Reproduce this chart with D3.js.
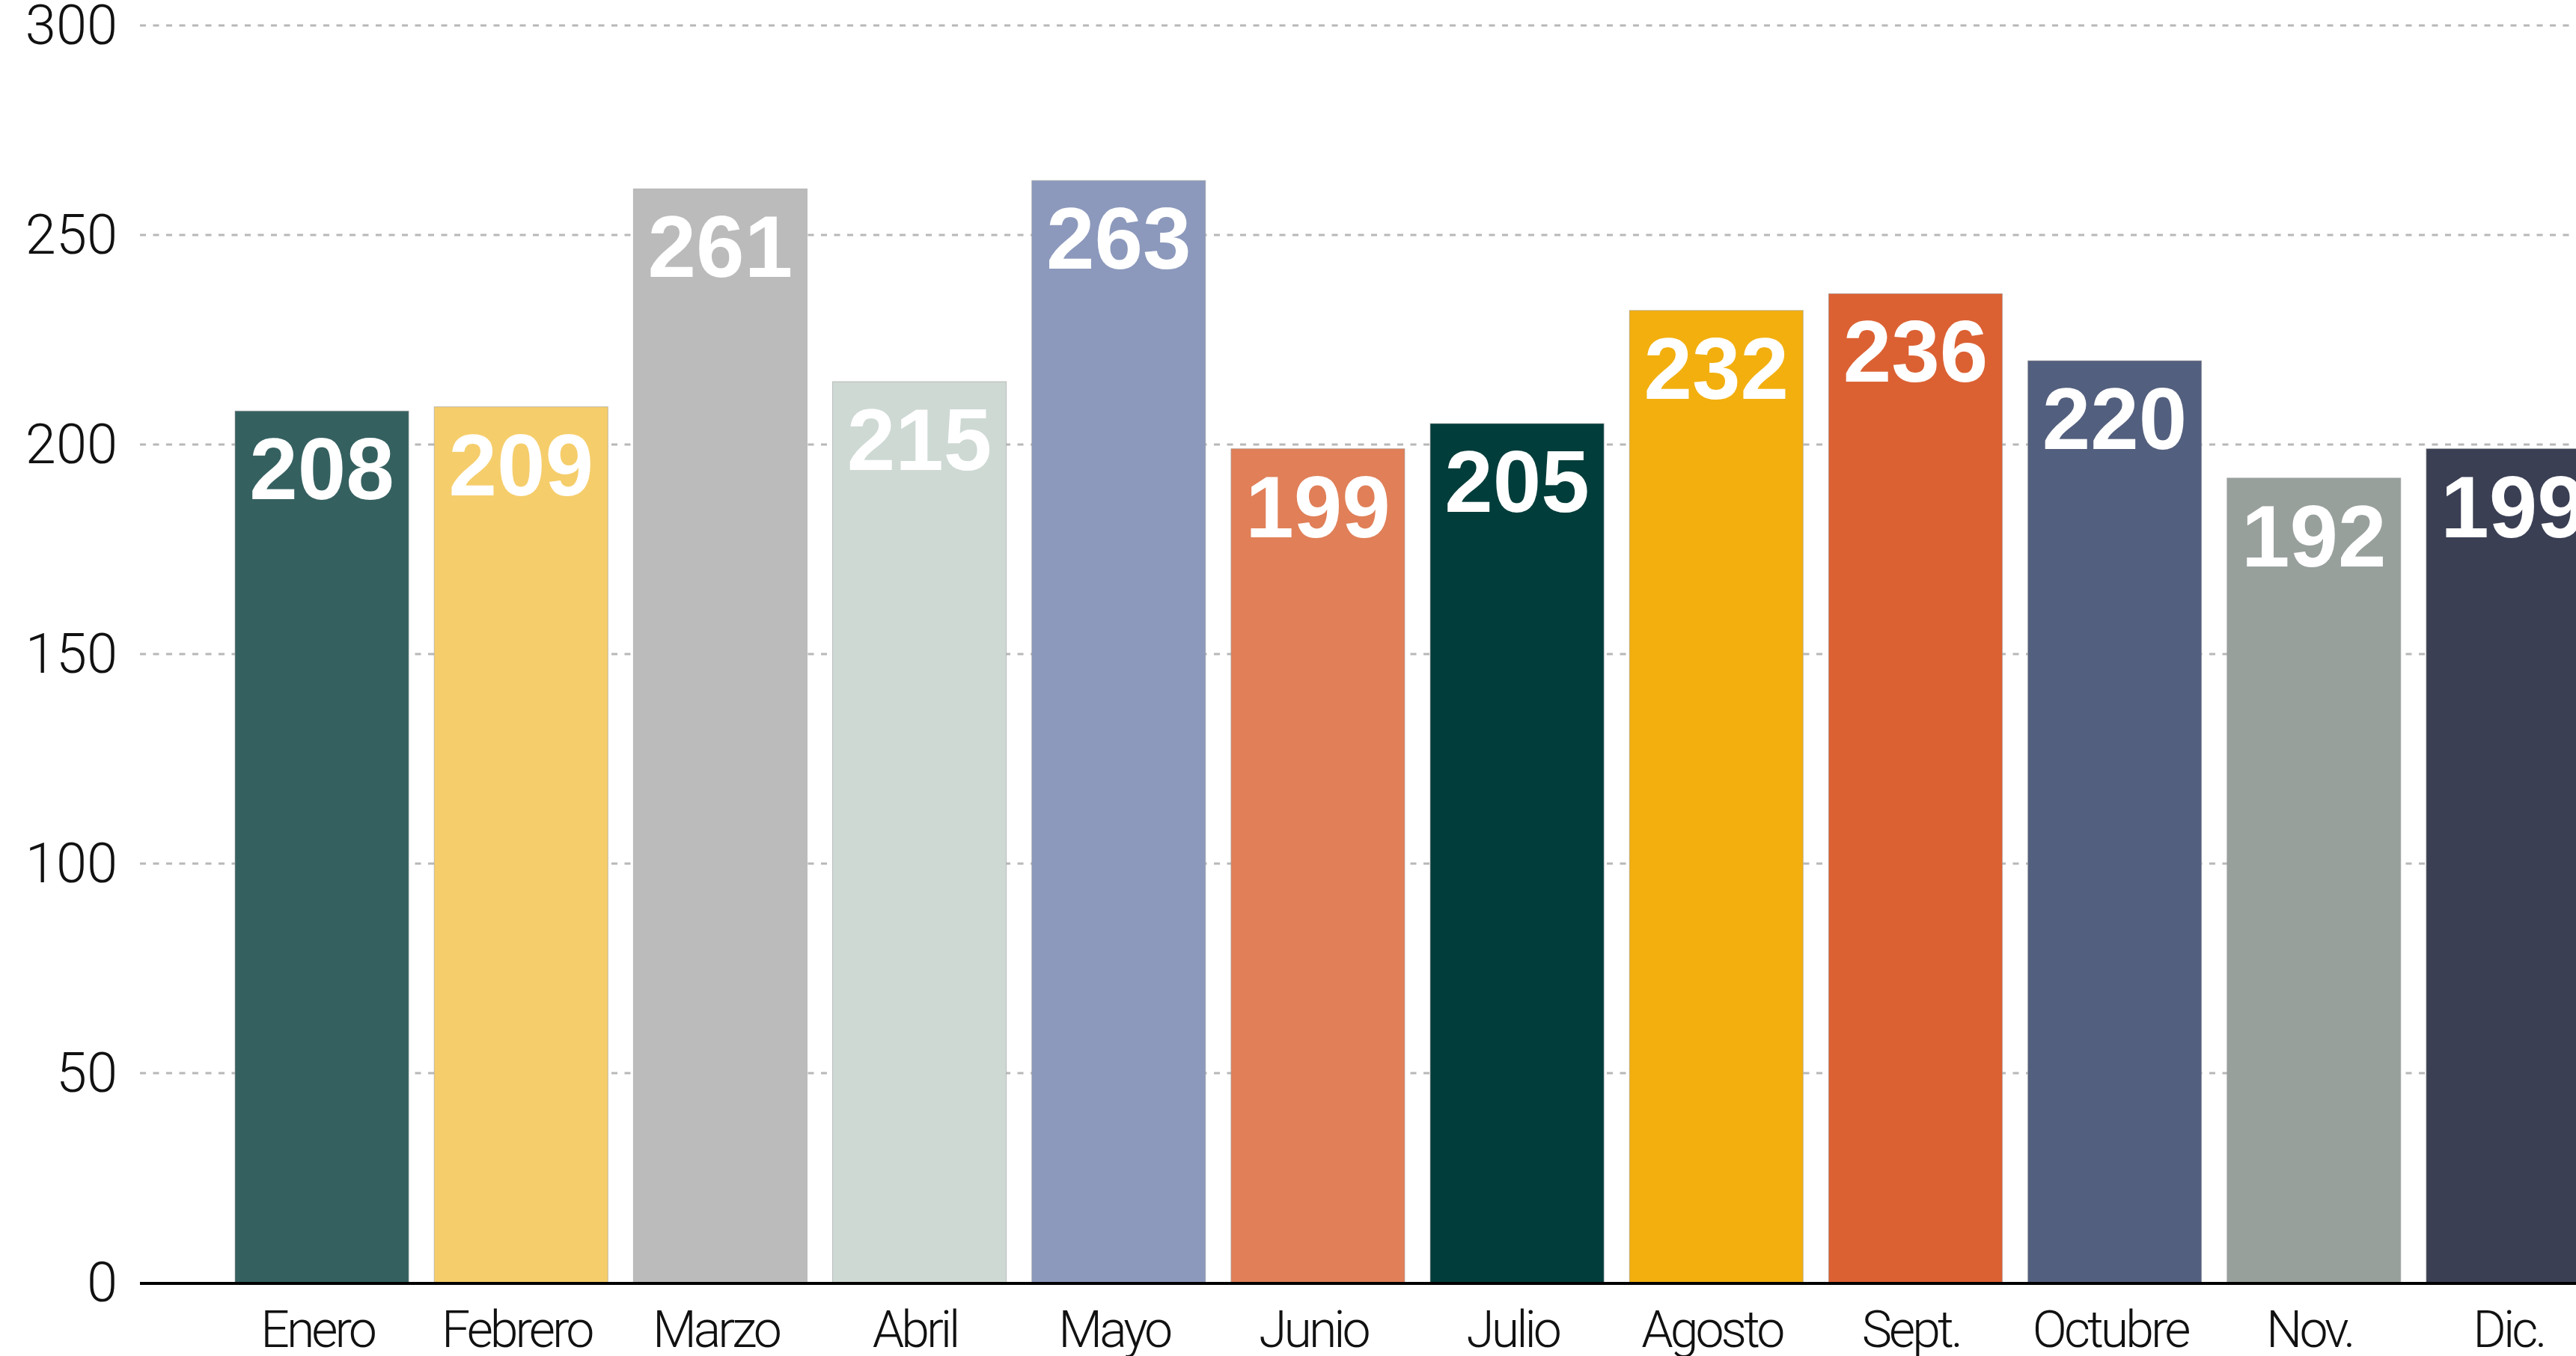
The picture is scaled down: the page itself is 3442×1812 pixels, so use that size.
<!DOCTYPE html>
<html>
<head>
<meta charset="utf-8">
<script src="https://cdn.jsdelivr.net/npm/d3@7"></script>
<style>
  html, body { margin: 0; padding: 0; background: #ffffff; overflow: hidden; }
  svg { display: block; }
</style>
</head>
<body>
<svg id="chart" width="3442" height="1812"></svg>
<script>
const categories = ["Enero", "Febrero", "Marzo", "Abril", "Mayo", "Junio", "Julio", "Agosto", "Sept.", "Octubre", "Nov.", "Dic."];
const values = [208, 209, 261, 215, 263, 199, 205, 232, 236, 220, 192, 199];
const colors = ["#356060", "#F5CD6A", "#BBBBBB", "#CED9D3", "#8C99BC", "#E07F58", "#003D3B", "#F2AF0E", "#DB6133", "#535F7E", "#98A09C", "#3A3F54"];
const yTicks = [0, 50, 100, 150, 200, 250, 300];

const W = 3442, H = 1812;
const svg = d3.select("#chart");

const y = d3.scaleLinear().domain([0, 300]).range([1714, 34]);
const x = d3.scaleBand().domain(categories).range([314, 3474]).paddingInner(0.128).paddingOuter(0);

const gridLeft = 187;

// gridlines
svg.append("g").selectAll("line").data(yTicks.filter(d => d > 0)).join("line")
  .attr("x1", gridLeft).attr("x2", W)
  .attr("y1", d => y(d)).attr("y2", d => y(d))
  .attr("stroke", "#b8b8b8").attr("stroke-width", 3)
  .attr("stroke-dasharray", "8,9.5");

// y tick labels
svg.append("g").selectAll("text").data(yTicks).join("text")
  .attr("x", 157).attr("y", d => y(d) + 25)
  .attr("text-anchor", "end")
  .attr("font-family", "Roboto, 'Liberation Sans', sans-serif")
  .attr("font-weight", 300)
  .attr("font-size", 74)
  .attr("fill", "#111")
  .text(d => d);

// bars
svg.append("g").selectAll("rect").data(values).join("rect")
  .attr("x", (d, i) => x(categories[i]))
  .attr("width", x.bandwidth())
  .attr("y", d => y(d))
  .attr("height", d => y(0) - y(d))
  .attr("fill", (d, i) => colors[i])
  .attr("stroke", "rgba(160,160,160,0.6)")
  .attr("stroke-width", 1);

// value labels
svg.append("g").selectAll("text").data(values).join("text")
  .attr("x", (d, i) => x(categories[i]) + x.bandwidth() / 2)
  .attr("y", d => y(d) + 118)
  .attr("text-anchor", "middle")
  .attr("font-family", "'Liberation Sans', Arial, sans-serif")
  .attr("font-weight", 700)
  .attr("font-size", 116)
  .attr("fill", "#ffffff")
  .text(d => d);

// x axis line
svg.append("line")
  .attr("x1", gridLeft).attr("x2", W)
  .attr("y1", y(0) + 1).attr("y2", y(0) + 1)
  .attr("stroke", "#000").attr("stroke-width", 4);

// x labels
svg.append("g").selectAll("text").data(categories).join("text")
  .attr("x", d => x(d) + x.bandwidth() / 2 - 6)
  .attr("y", 1800)
  .attr("text-anchor", "middle")
  .attr("font-family", "Roboto, 'Liberation Sans', sans-serif")
  .attr("font-weight", 300)
  .attr("font-size", 68)
  .attr("letter-spacing", "-4px")
  .attr("fill", "#111")
  .text(d => d);
</script>
</body>
</html>
